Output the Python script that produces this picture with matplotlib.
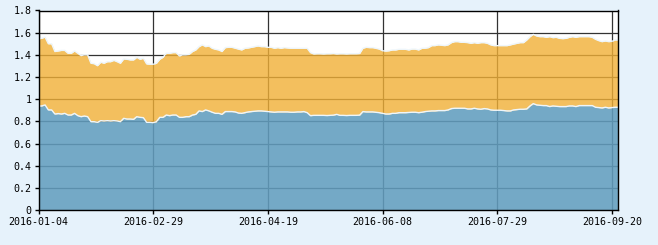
"""
Stacked area chart: two series over 2016 trading days
"""
import numpy as np
import matplotlib
matplotlib.use('Agg')
import matplotlib.pyplot as plt

# lower series (blue), one value per trading day starting 2016-01-04
blue = [0.939, 0.939, 0.948, 0.903, 0.903, 0.866, 0.870, 0.866, 0.872, 0.857,
        0.857, 0.872, 0.851, 0.842, 0.848, 0.842, 0.797, 0.797, 0.791, 0.806,
        0.803, 0.806, 0.803, 0.806, 0.803, 0.797, 0.827, 0.821, 0.821, 0.818,
        0.842, 0.836, 0.833, 0.791, 0.791, 0.788, 0.797, 0.836, 0.836, 0.857,
        0.851, 0.857, 0.857, 0.836, 0.836, 0.842, 0.842, 0.857, 0.863, 0.894,
        0.888, 0.903, 0.894, 0.882, 0.872, 0.872, 0.863, 0.888, 0.888, 0.888,
        0.885, 0.875, 0.872, 0.878, 0.885, 0.888, 0.891, 0.894, 0.894, 0.891,
        0.888, 0.885, 0.882, 0.885, 0.885, 0.885, 0.885, 0.882, 0.882, 0.885,
        0.885, 0.888, 0.878, 0.851, 0.854, 0.854, 0.854, 0.854, 0.852, 0.854,
        0.856, 0.863, 0.854, 0.854, 0.852, 0.854, 0.854, 0.854, 0.856, 0.888,
        0.885, 0.885, 0.885, 0.882, 0.878, 0.872, 0.866, 0.866, 0.872, 0.872,
        0.878, 0.878, 0.878, 0.880, 0.882, 0.882, 0.878, 0.882, 0.888, 0.891,
        0.894, 0.894, 0.897, 0.897, 0.897, 0.903, 0.915, 0.918, 0.918, 0.918,
        0.918, 0.912, 0.912, 0.918, 0.912, 0.909, 0.915, 0.912, 0.903, 0.900,
        0.900, 0.900, 0.897, 0.894, 0.894, 0.903, 0.906, 0.909, 0.909, 0.912,
        0.939, 0.960, 0.948, 0.945, 0.942, 0.942, 0.933, 0.939, 0.936, 0.933,
        0.933, 0.933, 0.939, 0.939, 0.933, 0.942, 0.942, 0.942, 0.942, 0.942,
        0.927, 0.924, 0.921, 0.927, 0.921, 0.924, 0.927, 0.927]

# upper edge of the stack (blue + orange)
total = [1.543, 1.550, 1.560, 1.500, 1.500, 1.430, 1.435, 1.440, 1.440, 1.414,
         1.414, 1.435, 1.414, 1.393, 1.400, 1.400, 1.324, 1.320, 1.302, 1.333,
         1.324, 1.338, 1.338, 1.350, 1.338, 1.324, 1.363, 1.360, 1.354, 1.354,
         1.378, 1.360, 1.369, 1.318, 1.315, 1.315, 1.324, 1.360, 1.378, 1.414,
         1.414, 1.420, 1.420, 1.390, 1.400, 1.400, 1.405, 1.430, 1.444, 1.474,
         1.490, 1.474, 1.480, 1.459, 1.450, 1.444, 1.430, 1.465, 1.468, 1.468,
         1.460, 1.452, 1.444, 1.459, 1.462, 1.468, 1.474, 1.480, 1.474, 1.474,
         1.468, 1.468, 1.459, 1.465, 1.459, 1.465, 1.462, 1.459, 1.459, 1.460,
         1.460, 1.459, 1.459, 1.420, 1.408, 1.410, 1.410, 1.408, 1.410, 1.410,
         1.412, 1.408, 1.410, 1.410, 1.408, 1.410, 1.410, 1.410, 1.412, 1.459,
         1.468, 1.465, 1.465, 1.459, 1.452, 1.437, 1.434, 1.437, 1.444, 1.444,
         1.450, 1.450, 1.450, 1.444, 1.452, 1.452, 1.444, 1.459, 1.460, 1.465,
         1.483, 1.483, 1.490, 1.487, 1.483, 1.490, 1.510, 1.519, 1.519, 1.513,
         1.513, 1.510, 1.504, 1.510, 1.504, 1.510, 1.510, 1.504, 1.490, 1.483,
         1.483, 1.483, 1.483, 1.483, 1.490, 1.498, 1.504, 1.510, 1.510, 1.534,
         1.564, 1.585, 1.570, 1.564, 1.564, 1.558, 1.564, 1.555, 1.558, 1.549,
         1.546, 1.549, 1.558, 1.564, 1.558, 1.564, 1.564, 1.564, 1.564, 1.558,
         1.540, 1.528, 1.519, 1.525, 1.519, 1.522, 1.534, 1.534]

tick_labels = ['2016-01-04', '2016-02-29', '2016-04-19',
               '2016-06-08', '2016-07-29', '2016-09-20']
tick_step = 35  # trading days between labelled dates

x = np.arange(len(blue))
blue = np.array(blue)
total = np.array(total)

fig = plt.figure(figsize=(6.58, 2.45), dpi=100, facecolor='#e6f2fb')
ax = fig.add_axes([38.5/658, 35/245, 580/658, 199.5/245])
ax.set_facecolor('white')

#grid sits under the semi-transparent fills
ax.set_axisbelow(True)
ax.grid(True, color='#333333', linewidth=0.9)

ax.fill_between(x, 0, blue, color='#619dbe', alpha=0.88, linewidth=0, zorder=2)
ax.fill_between(x, blue, total, color='#f1b036', alpha=0.8, linewidth=0, zorder=2)
ax.plot(x, blue, color='#eef6fb', linewidth=1.0, zorder=3)
ax.plot(x, total, color='#eef6fb', linewidth=1.0, zorder=3)

ax.set_xlim(0, len(blue) - 1)
ax.set_ylim(0, 1.8)
ax.set_xticks(np.arange(len(tick_labels)) * tick_step)
ax.set_xticklabels(tick_labels)
ax.set_yticks(np.arange(0, 1.81, 0.2))
ax.set_yticklabels(['0', '0.2', '0.4', '0.6', '0.8', '1', '1.2', '1.4', '1.6', '1.8'])

for spine in ax.spines.values():
    spine.set_color('black')
    spine.set_linewidth(1.0)
    spine.set_zorder(4)
ax.tick_params(direction='out', length=3, width=1, color='black', pad=2,
               labelsize=7.2, labelcolor='black')
for lab in ax.get_xticklabels() + ax.get_yticklabels():
    lab.set_family('DejaVu Sans Mono')

fig.savefig('out.png', dpi=100, facecolor=fig.get_facecolor())
